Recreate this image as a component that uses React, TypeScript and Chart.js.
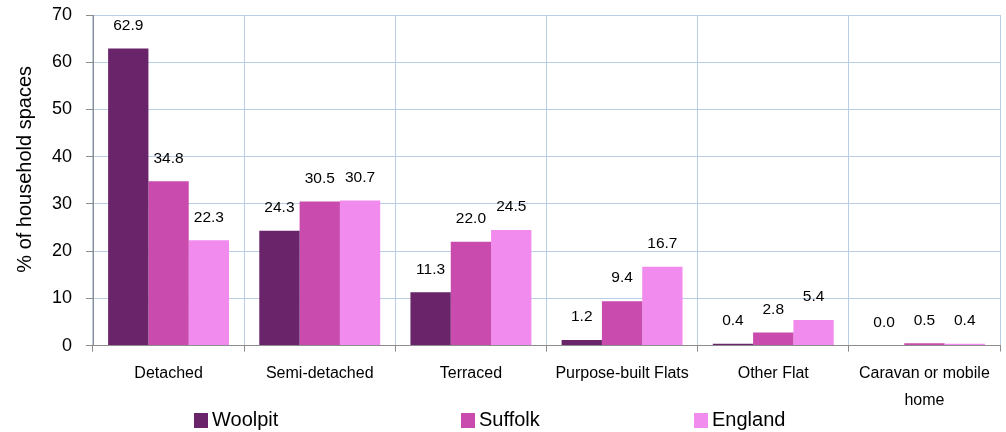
import React, { useEffect, useRef } from "react";
import { Chart, registerables } from "chart.js";

Chart.register(...registerables);

const categories: (string | string[])[] = [
  "Detached",
  "Semi-detached",
  "Terraced",
  "Purpose-built Flats",
  "Other Flat",
  ["Caravan or mobile", "home"],
];
const woolpit = [62.9, 24.3, 11.3, 1.2, 0.4, 0.0];
const suffolk = [34.8, 30.5, 22.0, 9.4, 2.8, 0.5];
const england = [22.3, 30.7, 24.5, 16.7, 5.4, 0.4];
const seriesNames = ["Woolpit", "Suffolk", "England"];
const seriesColors = ["#6A2469", "#C84BAD", "#F18BEE"];
const yTicks = [0, 10, 20, 30, 40, 50, 60, 70];
const yTitle = "% of household spaces";

const FONT = "'Liberation Sans', Arial, sans-serif";

const dataLabelPlugin = {
  id: "dataLabels",
  afterDatasetsDraw(chart: any) {
    const ctx = chart.ctx;
    ctx.save();
    ctx.font = `15.5px ${FONT}`;
    ctx.fillStyle = "#000";
    ctx.textAlign = "center";
    ctx.textBaseline = "middle";
    chart.data.datasets.forEach((ds: any, i: number) => {
      const meta = chart.getDatasetMeta(i);
      meta.data.forEach((bar: any, j: number) => {
        const v = ds.data[j] as number;
        ctx.fillText(v.toFixed(1), bar.x, bar.y - 23);
      });
    });
    ctx.restore();
  },
};

const yTitlePlugin = {
  id: "yTitle",
  afterDraw(chart: any) {
    const ctx = chart.ctx;
    const a = chart.chartArea;
    ctx.save();
    ctx.font = `20px ${FONT}`;
    ctx.fillStyle = "#000";
    ctx.textAlign = "center";
    ctx.textBaseline = "middle";
    ctx.translate(25, (a.top + a.bottom) / 2 - 11);
    ctx.rotate(-Math.PI / 2);
    ctx.fillText(yTitle, 0, 0);
    ctx.restore();
  },
};

export default function App() {
  const ref = useRef<HTMLCanvasElement>(null);
  useEffect(() => {
    if (!ref.current) return;
    const chart = new Chart(ref.current, {
      type: "bar",
      data: {
        labels: categories,
        datasets: [woolpit, suffolk, england].map((d, i) => ({
          label: seriesNames[i],
          data: d,
          backgroundColor: seriesColors[i],
          borderWidth: 0,
          categoryPercentage: 0.8,
          barPercentage: 1.0,
        })),
      },
      options: {
        responsive: false,
        animation: false,
        devicePixelRatio: 1,
        layout: { padding: { left: 14, right: 6, top: 15, bottom: 10 } },
        plugins: {
          legend: { display: false },
          tooltip: { enabled: false },
        },
        scales: {
          x: {
            afterFit: (scale: any) => {
              scale.paddingLeft = 0;
              scale.paddingRight = 0;
            },
            grid: {
              offset: true,
              color: "#B9CDE5",
              lineWidth: 1,
              tickLength: 6,
              tickColor: "#8C8C8C",
            },
            border: { color: "#8C8C8C", width: 1 },
            ticks: {
              color: "#000",
              font: { family: FONT, size: 16, lineHeight: 1.7 },
              padding: 8,
              maxRotation: 0,
              autoSkip: false,
            },
          },
          y: {
            min: 0,
            max: 70,
            afterBuildTicks: (scale: any) => {
              scale.ticks = yTicks.map((v) => ({ value: v }));
            },
            afterFit: (scale: any) => {
              scale.width = 79;
              scale.paddingTop = 0;
              scale.paddingBottom = 0;
            },
            grid: {
              color: "#B9CDE5",
              lineWidth: 1,
              tickLength: 7,
              tickColor: "#8C8C8C",
            },
            border: { color: "#8C8C8C", width: 1 },
            ticks: {
              color: "#000",
              font: { family: FONT, size: 18 },
              padding: 14,
              stepSize: 10,
            },
          },
        },
      },
      plugins: [dataLabelPlugin, yTitlePlugin],
    });
    return () => chart.destroy();
  }, []);

  const legendPos = [194, 461, 694];
  return (
    <div
      style={{
        position: "fixed",
        left: 0,
        top: 0,
        width: 1006,
        height: 432,
        background: "#fff",
      }}
    >
      <canvas ref={ref} width={1006} height={432} style={{ display: "block" }} />
      {seriesNames.map((name, i) => (
        <div
          key={name}
          style={{
            position: "absolute",
            left: legendPos[i],
            top: 409,
            height: 20,
            display: "flex",
            alignItems: "center",
            fontFamily: FONT,
            fontSize: 20,
            lineHeight: "20px",
            color: "#000",
            whiteSpace: "nowrap",
          }}
        >
          <span
            style={{
              display: "inline-block",
              width: 14,
              height: 15,
              background: seriesColors[i],
              marginRight: 4,
              marginTop: 3,
            }}
          />
          <span>{name}</span>
        </div>
      ))}
    </div>
  );
}
